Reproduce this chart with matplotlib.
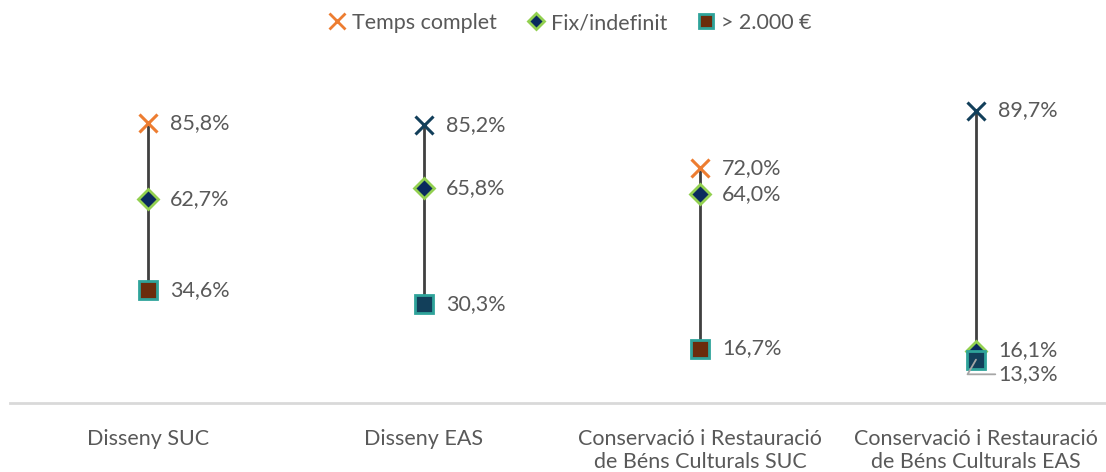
import matplotlib
matplotlib.use("Agg")
import matplotlib.pyplot as plt
from matplotlib.lines import Line2D

plt.rcParams['font.family'] = ['Lato', 'DejaVu Sans']

categories = ["Disseny SUC", "Disseny EAS",
              "Conservació i Restauració\nde Béns Culturals SUC",
              "Conservació i Restauració\nde Béns Culturals EAS"]
temps_complet = [85.8, 85.2, 72.0, 89.7]
fix_indefinit = [62.7, 65.8, 64.0, 16.1]
sou_2000 = [34.6, 30.3, 16.7, 13.3]
series_names = ["Temps complet", "Fix/indefinit", "> 2.000 €"]

ORANGE = "#ED7D31"
NAVY = "#123F5A"
DIAMOND_FILL = "#0A2A5E"
GREEN = "#92D050"
TEAL = "#2FA39A"
BROWN = "#6B2C0C"
LINE = "#404040"
TEXT = "#595959"

x_col = [ORANGE, NAVY, ORANGE, NAVY]
sq_fill = [BROWN, NAVY, BROWN, NAVY]

W, H = 1106, 472
fig = plt.figure(figsize=(W / 100, H / 100), dpi=100)
ax = fig.add_axes([10 / W, 69 / H, 1096 / W, 326 / H])
ax.set_xlim(-0.5, -0.5 + 1096 / 276)
ax.set_ylim(0, 100)
for s in ["top", "left", "right"]:
    ax.spines[s].set_visible(False)
ax.spines["bottom"].set_color("#D9D9D9")
ax.spines["bottom"].set_linewidth(2)
ax.set_yticks([])
ax.set_xticks([])

fs = 15.5
cat_fs = 15.5


def pct(v):
    return f"{v:.1f}%".replace(".", ",")


for i in range(len(categories)):
    vals = [temps_complet[i], fix_indefinit[i], sou_2000[i]]
    ax.plot([i, i], [min(vals), max(vals)], color=LINE, lw=2, zorder=1,
            solid_capstyle="butt")
    ax.plot(i, fix_indefinit[i], marker="D", ms=10, mfc=DIAMOND_FILL,
            mec=GREEN, mew=2, zorder=2)
    ax.plot(i, sou_2000[i], marker="s", ms=13, mfc=sq_fill[i],
            mec=TEAL, mew=2, zorder=3)
    ax.plot(i, temps_complet[i], marker="x", ms=13, mec=x_col[i],
            mew=2.2, zorder=4)
    ax.text(i + 0.08, temps_complet[i], pct(temps_complet[i]),
            va="center", ha="left", fontsize=fs, color=TEXT)
    ax.text(i + 0.08, fix_indefinit[i], pct(fix_indefinit[i]),
            va="center", ha="left", fontsize=fs, color=TEXT)
    if i == 3:
        ax.annotate(pct(sou_2000[i]),
                    xy=(i, sou_2000[i]), xytext=(i + 0.08, sou_2000[i] - 4.5),
                    va="center", ha="left", fontsize=fs, color=TEXT,
                    arrowprops=dict(arrowstyle="-", color="#A6A6A6", lw=1.3,
                                    shrinkA=0, shrinkB=0,
                                    connectionstyle="angle,angleA=0,angleB=60,rad=0"))
    else:
        ax.text(i + 0.08, sou_2000[i], pct(sou_2000[i]),
                va="center", ha="left", fontsize=fs, color=TEXT)
    ax.text(i, -8.0, categories[i], ha="center", va="top", fontsize=cat_fs,
            color=TEXT, linespacing=1.2)

handles = [
    Line2D([], [], ls="none", marker="x", ms=11, mec=ORANGE, mew=2),
    Line2D([], [], ls="none", marker="D", ms=8, mfc=DIAMOND_FILL, mec=GREEN, mew=2),
    Line2D([], [], ls="none", marker="s", ms=10, mfc=BROWN, mec=TEAL, mew=2),
]
fig.legend(handles, series_names, loc="center", bbox_to_anchor=(568 / W, 1 - 23 / H),
           ncol=3, frameon=False, fontsize=fs, labelcolor=TEXT,
           handletextpad=0.1, columnspacing=1.2, handlelength=1.2)

fig.savefig("out.png", dpi=100)
